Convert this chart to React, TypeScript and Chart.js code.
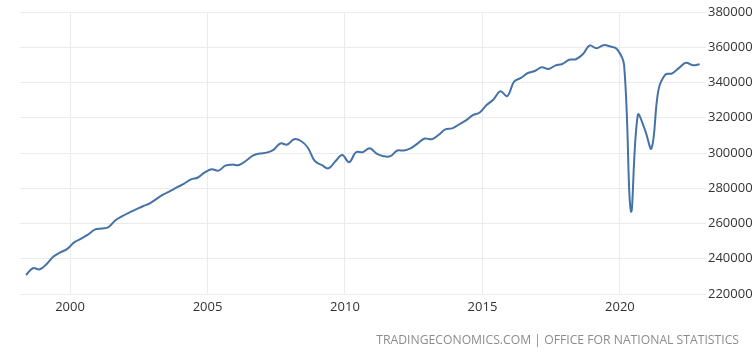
import React, { useEffect, useRef } from "react";
import { Chart, registerables } from "chart.js";

Chart.register(...registerables);

// Quarterly series: first observation position (decimal year) and spacing
const START_YEAR = 1998.4;
const STEP_YEARS = 0.25;

const values: number[] = [
  230800, 234600, 234000, 237000, 241300, 243600, 245600, 249300,
  251400, 253700, 256500, 257200, 258000, 261800, 264200, 266200,
  268000, 269800, 271400, 274000, 276500, 278500, 280600, 282600,
  285000, 286100, 289000, 290800, 290000, 292800, 293400, 293200,
  295600, 298500, 299700, 300200, 301800, 305400, 304800, 307800,
  306800, 303000, 295500, 293200, 291300, 295300, 298800, 294800,
  300400, 300500, 302700, 299600, 298200, 298200, 301400, 301400,
  302800, 305500, 308200, 307800, 310200, 313400, 314000, 316200,
  318500, 321500, 323000, 327200, 330400, 335000, 332300, 340500,
  342600, 345400, 346500, 348600, 347700, 349600, 350500, 352900,
  353200, 356000, 361000, 359400, 361200, 360400, 358800, 350000,
  267000, 321500, 313600, 302700, 335700, 344500, 345200, 348300,
  351200, 349800, 350400,
];

const xTickYears = [2000, 2005, 2010, 2015, 2020];
const X_MIN = 1998.18;
const X_MAX = 2023.13;
const Y_MIN = 220000;
const Y_MAX = 380000;
const Y_STEP = 20000;
const sourceText = "TRADINGECONOMICS.COM | OFFICE FOR NATIONAL STATISTICS";

export default function App() {
  const ref = useRef<HTMLCanvasElement>(null);

  useEffect(() => {
    document.body.style.margin = "0";
    const data = values.map((v, i) => ({ x: START_YEAR + i * STEP_YEARS, y: v }));
    const font = { family: "'Open Sans', sans-serif", size: 13 };
    const chart = new Chart(ref.current!, {
      type: "line",
      data: {
        datasets: [
          {
            data,
            borderColor: "#4572a7",
            borderWidth: 2,
            pointRadius: 0,
            tension: 0.4,
            fill: false,
          },
        ],
      },
      options: {
        animation: false,
        responsive: false,
        maintainAspectRatio: false,
        layout: { padding: { left: 20, top: 12, right: 0, bottom: 0 } },
        plugins: { legend: { display: false }, tooltip: { enabled: false } },
        scales: {
          x: {
            type: "linear",
            min: X_MIN,
            max: X_MAX,
            border: { display: false },
            grid: { color: "#ebebeb", drawTicks: false, lineWidth: 1 },
            afterBuildTicks: (s: any) => {
              s.ticks = xTickYears.map((v) => ({ value: v }));
            },
            afterFit: (s: any) => {
              s.height = 58;
            },
            ticks: {
              autoSkip: false,
              maxRotation: 0,
              padding: 5,
              color: "#333333",
              font,
              callback: (v: any) => String(v),
            },
          },
          y: {
            position: "right",
            min: Y_MIN,
            max: Y_MAX,
            border: { display: false },
            grid: { color: "#ebebeb", drawTicks: false, lineWidth: 1 },
            afterFit: (s: any) => {
              s.width = 48;
            },
            ticks: {
              stepSize: Y_STEP,
              padding: 2,
              color: "#333333",
              font,
              callback: (v: any) => String(v),
            },
          },
        },
      },
    });
    return () => chart.destroy();
  }, []);

  return (
    <div style={{ position: "relative", width: 754, height: 352 }}>
      <canvas ref={ref} width={754} height={352} style={{ display: "block" }} />
      <div
        style={{
          position: "absolute",
          right: 15,
          top: 331,
          fontFamily: "'Open Sans', sans-serif",
          fontSize: 12.2,
          color: "#8c8c8c",
          whiteSpace: "nowrap",
          lineHeight: "18px",
        }}
      >
        {sourceText}
      </div>
    </div>
  );
}
